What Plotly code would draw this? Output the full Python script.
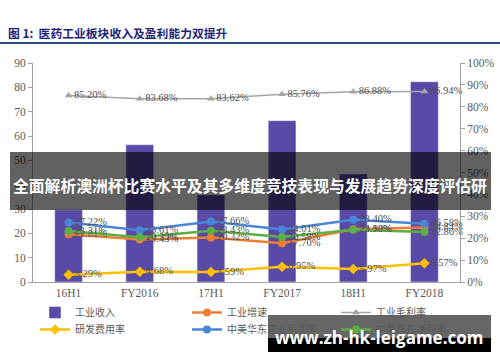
import plotly.graph_objects as go

categories = ["16H1", "FY2016", "17H1", "FY2017", "18H1", "FY2018"]
revenue = [29.7, 56.4, 35.8, 66.3, 44.4, 82.3]
growth = [0.2181, 0.1943, 0.2032, 0.1770, 0.2413, 0.2484]
gross_margin = [0.8520, 0.8368, 0.8362, 0.8576, 0.8688, 0.8694]
rd_rate = [0.0329, 0.0468, 0.0459, 0.0695, 0.0597, 0.0857]
op_margin = [0.2722, 0.2361, 0.2766, 0.2401, 0.2840, 0.2658]
net_margin = [0.2331, 0.2039, 0.2343, 0.2058, 0.2390, 0.2286]

W, H = 500, 362
L, R, T, B = 33, 460, 63, 282


def px(x):
    return (x - L) / (R - L)


def py(y):
    return (B - y) / (B - T)


label_font = dict(family="Liberation Serif", size=10.5, color="#505050")


def pct_text(vals):
    return [f"{v*100:.2f}%" for v in vals]


fig = go.Figure()
fig.add_trace(go.Bar(x=categories, y=revenue, name="工业收入", marker_color="#5A4AA8",
                     width=0.39, yaxis="y", legend="legend"))


def add_line(vals, name, color, symbol, width, msize, leg):
    fig.add_trace(go.Scatter(
        x=categories, y=vals, name=name, yaxis="y2", mode="lines+markers+text",
        line=dict(color=color, width=width), marker=dict(color=color, symbol=symbol, size=msize),
        text=pct_text(vals), textposition="middle right", textfont=label_font,
        cliponaxis=False, legend=leg))


add_line(growth, "工业增速", "#ED7D31", "circle", 2.5, 8, "legend2")
add_line(gross_margin, "工业毛利率", "#A5A5A5", "triangle-up", 1.5, 7, "legend3")
add_line(rd_rate, "研发费用率", "#FFC000", "diamond", 2.5, 8, "legend4")
add_line(op_margin, "中美华东营业利润率", "#4A86D8", "circle", 2.5, 8, "legend5")
add_line(net_margin, "中美华东净利率", "#5DAE45", "circle", 2.5, 8, "legend6")

tickfont = dict(family="Liberation Serif", size=11.5, color="#595959")
legfont = dict(family="Noto Sans CJK SC", size=10, color="#595959")


def leg(xp, yp):
    return dict(orientation="v", x=px(xp), y=py(yp), xanchor="left", yanchor="top",
                font=legfont, itemwidth=30, bgcolor="rgba(0,0,0,0)", tracegroupgap=0)


fig.update_layout(
    width=W, height=H, margin=dict(l=L, r=W - R, t=T, b=H - B, autoexpand=False),
    paper_bgcolor="white", plot_bgcolor="white", showlegend=True,
    xaxis=dict(showgrid=False, showline=True, linecolor="#A0A0A0", linewidth=1,
               tickfont=tickfont, ticks="", fixedrange=True),
    yaxis=dict(range=[0, 90], dtick=10, showgrid=False, showline=True, linecolor="#A0A0A0",
               ticks="outside", ticklen=4, tickcolor="#A0A0A0", tickfont=tickfont, zeroline=False),
    yaxis2=dict(range=[0, 1], dtick=0.1, tickformat=".0%", overlaying="y", side="right",
                showgrid=False, showline=True, linecolor="#A0A0A0", ticks="outside", ticklen=4,
                tickcolor="#A0A0A0", tickfont=tickfont, zeroline=False),
    legend=leg(35, 298),
    legend2=leg(187, 298),
    legend3=leg(336, 298),
    legend4=leg(35, 315),
    legend5=leg(187, 315),
    legend6=leg(336, 315),
    font=dict(family="Liberation Serif"),
)

# title and rule
fig.add_annotation(text="图 1:  医药工业板块收入及盈利能力双提升", xref="paper", yref="paper",
                   x=px(6), y=py(33), xanchor="left", yanchor="middle", showarrow=False,
                   font=dict(family="Noto Sans CJK SC", size=11.8, color="#1E1F78", weight="bold"))
fig.add_shape(type="line", xref="paper", yref="paper", x0=px(0), x1=px(W), y0=py(43), y1=py(43),
              line=dict(color="#2B4A8C", width=2))

# overlay banner
fig.add_shape(type="rect", xref="paper", yref="paper", x0=px(10), x1=px(491), y0=py(152), y1=py(210),
              fillcolor="rgba(0,0,0,0.62)", line=dict(width=0), layer="above")
fig.add_annotation(text="全面解析澳洲杯比赛水平及其多维度竞技表现与发展趋势深度评估研", xref="paper", yref="paper",
                   x=px(250), y=py(185), xanchor="center", yanchor="middle", showarrow=False,
                   font=dict(family="Noto Sans CJK SC", size=15.8, color="white", weight="bold"))

# watermark
fig.add_shape(type="rect", xref="paper", yref="paper", x0=px(268), x1=px(491), y0=py(315), y1=py(338),
              fillcolor="rgba(0,0,0,0.6)", line=dict(width=0), layer="above")
fig.add_shape(type="rect", xref="paper", yref="paper", x0=px(268), x1=px(491), y0=py(338), y1=py(352),
              fillcolor="black", line=dict(width=0), layer="above")
fig.add_annotation(text="www.zh-hk-leigame.com", xref="paper", yref="paper",
                   x=px(379), y=py(337), xanchor="center", yanchor="middle", showarrow=False,
                   font=dict(family="Open Sans", size=17, color="white", weight="bold"))

fig.write_html("out.html", post_script="document.body.style.margin='0';",
               config={"displayModeBar": False})
